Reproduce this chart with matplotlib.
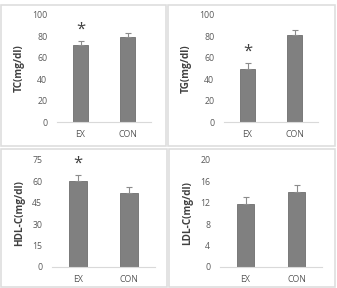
import matplotlib
matplotlib.use('Agg')
import matplotlib.pyplot as plt
from matplotlib.patches import Rectangle

plt.rcParams['font.family'] = ['Open Sans', 'DejaVu Sans']

# Data
groups = ['EX', 'CON']
tcMeans = [72, 79.5]
tcErr = [3.5, 3.5]
tgMeans = [49.5, 81]
tgErr = [5.5, 5]
hdlMeans = [60.3, 52]
hdlErr = [4.2, 4.2]
ldlMeans = [11.7, 14.1]
ldlErr = [1.3, 1.3]

panels = [
    ('TC(mg/dl)', tcMeans, tcErr, [0, 20, 40, 60, 80, 100], True),
    ('TG(mg/dl)', tgMeans, tgErr, [0, 20, 40, 60, 80, 100], True),
    ('HDL-C(mg/dl)', hdlMeans, hdlErr, [0, 15, 30, 45, 60, 75], True),
    ('LDL-C(mg/dl)', ldlMeans, ldlErr, [0, 4, 8, 12, 16, 20], False),
]

W, H = 337, 288
fig = plt.figure(figsize=(W / 100, H / 100), dpi=100)

# axes boxes in pixels: left, top, right, bottom
axBoxes = [(57, 15, 151, 122), (224, 15, 318, 122),
           (52, 160, 155, 267), (220, 160, 322, 267)]
# light panel frames in pixels
frames = [(1, 5, 166, 146), (168, 5, 335, 146),
          (1, 149, 167, 287), (169, 149, 335, 287)]

for (x0, y0, x1, y1) in frames:
    fig.add_artist(Rectangle((x0 / W, 1 - y1 / H), (x1 - x0) / W, (y1 - y0) / H,
                             transform=fig.transFigure, fill=False,
                             edgecolor='#dedede', linewidth=1.2))

for (label, means, errs, ticks, star), (l, t, r, b) in zip(panels, axBoxes):
    ax = fig.add_axes([l / W, 1 - b / H, (r - l) / W, (b - t) / H])
    x = range(len(groups))
    ax.bar(x, means, width=0.34, color='#808080', edgecolor='#6e6e6e', linewidth=0.6)
    ax.errorbar(x, means, yerr=[[0, 0], errs], fmt='none', ecolor='#8c8c8c',
                elinewidth=0.8, capsize=2.5, capthick=0.8)
    if star:
        ax.text(0, means[0] + errs[0] + ticks[-1] * 0.03, '*', ha='center', va='bottom',
                fontsize=12, color='#404040')
    ax.set_xlim(-0.5, 1.5)
    ax.set_ylim(0, ticks[-1])
    ax.set_yticks(ticks)
    ax.set_xticks(list(x))
    ax.set_xticklabels(groups)
    ax.tick_params(length=0, labelsize=6.3, colors='#595959', pad=6)
    ax.tick_params(axis='y', pad=7)
    for s in ['top', 'right', 'left']:
        ax.spines[s].set_visible(False)
    ax.spines['bottom'].set_color('#d9d9d9')
    ax.spines['bottom'].set_linewidth(0.8)
    ax.set_ylabel(label, fontsize=7.2, fontweight='bold', color='#404040', labelpad=5)
    ax.patch.set_alpha(0)

fig.savefig('out.png', dpi=100, facecolor='white')
